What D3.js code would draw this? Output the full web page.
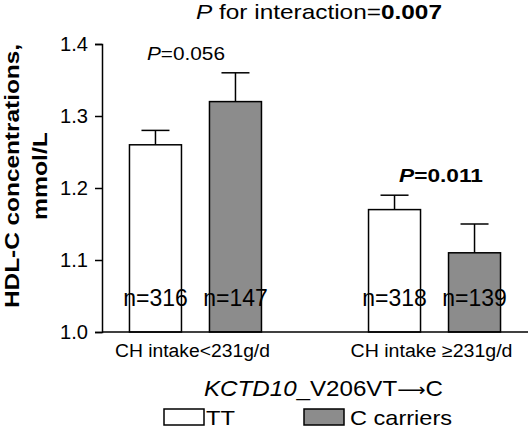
<!DOCTYPE html>
<html>
<head>
<meta charset="utf-8">
<script src="https://cdn.jsdelivr.net/npm/d3@7"></script>
<style>
  html, body { margin: 0; padding: 0; background: #fff; }
  svg { display: block; font-family: "Liberation Sans", Arial, sans-serif; }
</style>
</head>
<body>
<svg id="chart" width="531" height="431"></svg>
<script>
// ---- data ----
const groups = ["CH intake<231g/d", "CH intake \u2265231g/d"];
const genotypes = ["TT", "C carriers"];
const meansTT = [1.26, 1.17];
const meansC = [1.32, 1.11];
const errUpperTT = [1.28, 1.19];
const errUpperC = [1.36, 1.15];
const nTT = ["n=316", "n=318"];
const nC = ["n=147", "n=139"];
const pLabels = ["0.056", "0.011"];
const pBold = [false, true];
const yTicks = [1.0, 1.1, 1.2, 1.3, 1.4];
const colors = { "TT": "#ffffff", "C carriers": "#8c8c8c" };

const svg = d3.select("#chart");

const y = d3.scaleLinear().domain([1.0, 1.4]).range([332, 44]);
const x0 = d3.scalePoint().domain(groups).range([102, 528]).padding(0.391);
const x1 = d3.scaleBand().domain(genotypes).range([-66, 66]).paddingInner(0.35);

const rows = [];
groups.forEach((g, i) => {
  rows.push({ g, k: "TT", v: meansTT[i], e: errUpperTT[i], n: nTT[i] });
  rows.push({ g, k: "C carriers", v: meansC[i], e: errUpperC[i], n: nC[i] });
});

// error bars (behind bars)
const eb = svg.append("g").attr("stroke", "#000").attr("stroke-width", 1.5);
rows.forEach(d => {
  const cx = x0(d.g) + x1(d.k) + x1.bandwidth() / 2;
  eb.append("line").attr("x1", cx).attr("x2", cx).attr("y1", y(d.v)).attr("y2", y(d.e));
  eb.append("line").attr("x1", cx - 14).attr("x2", cx + 14).attr("y1", y(d.e)).attr("y2", y(d.e));
});

// bars
svg.append("g").selectAll("rect").data(rows).join("rect")
  .attr("x", d => x0(d.g) + x1(d.k))
  .attr("y", d => y(d.v))
  .attr("width", x1.bandwidth())
  .attr("height", d => y(1.0) - y(d.v))
  .attr("fill", d => colors[d.k])
  .attr("stroke", "#000")
  .attr("stroke-width", 1.5);

// n labels
svg.append("g").selectAll("text").data(rows).join("text")
  .attr("x", d => x0(d.g) + x1(d.k) + x1.bandwidth() / 2)
  .attr("y", 306)
  .attr("text-anchor", "middle")
  .attr("font-size", 23)
  .text(d => d.n);

// y axis
const yAxis = d3.axisLeft(y).tickValues(yTicks).tickFormat(d3.format(".1f")).tickSize(7).tickPadding(7);
const ya = svg.append("g").attr("transform", "translate(102,0)").call(yAxis);
ya.select(".domain").attr("stroke-width", 1.5);
ya.selectAll(".tick line").attr("stroke-width", 1.5);
ya.selectAll(".tick text").attr("font-size", 20).attr("font-family", "Liberation Sans, Arial, sans-serif")
  .attr("fill", "#000").attr("textLength", 28).attr("lengthAdjust", "spacingAndGlyphs");

// x axis line
svg.append("line").attr("x1", 102).attr("x2", 528).attr("y1", y(1.0)).attr("y2", y(1.0))
  .attr("stroke", "#000").attr("stroke-width", 1.5);

// category labels
const catLen = [155, 162];
svg.append("g").selectAll("text").data(groups).join("text")
  .attr("x", d => x0(d) - 3)
  .attr("y", 357)
  .attr("text-anchor", "middle")
  .attr("font-size", 18)
  .attr("textLength", (d, i) => catLen[i])
  .attr("lengthAdjust", "spacingAndGlyphs")
  .text(d => d);

// P labels per group
const pX = [147, 399], pY = [60, 182], pLen = [78, 84];
groups.forEach((g, i) => {
  const t = svg.append("text")
    .attr("x", pX[i])
    .attr("y", pY[i])
    .attr("font-size", 19)
    .attr("textLength", pLen[i])
    .attr("lengthAdjust", "spacingAndGlyphs")
    .attr("font-weight", pBold[i] ? "bold" : "normal");
  t.append("tspan").attr("font-style", "italic").text("P");
  t.append("tspan").text("=" + pLabels[i]);
});

// title
const title = svg.append("text").attr("x", 196).attr("y", 19).attr("font-size", 21)
  .attr("textLength", 246).attr("lengthAdjust", "spacingAndGlyphs");
title.append("tspan").attr("font-style", "italic").text("P");
title.append("tspan").text(" for interaction=");
title.append("tspan").attr("font-weight", "bold").text("0.007");

// y label
const yl = svg.append("g").attr("transform", "translate(0,176) rotate(-90)")
  .attr("font-size", 20).attr("font-weight", "bold");
yl.append("text").attr("x", 0).attr("y", 19).attr("text-anchor", "middle")
  .attr("textLength", 264).attr("lengthAdjust", "spacingAndGlyphs").text("HDL-C concentrations,");
yl.append("text").attr("x", 0).attr("y", 47).attr("text-anchor", "middle")
  .attr("textLength", 88).attr("lengthAdjust", "spacingAndGlyphs").text("mmol/L");

// x title
const xt = svg.append("text").attr("x", 204).attr("y", 396).attr("font-size", 22)
  .attr("textLength", 239).attr("lengthAdjust", "spacingAndGlyphs");
xt.append("tspan").attr("font-style", "italic").text("KCTD10");
xt.append("tspan").text("_V206VT");
xt.append("tspan").attr("font-family", "DejaVu Sans").attr("font-size", 18).text("\u27F6");
xt.append("tspan").text("C");

// legend
const leg = svg.append("g");
const legX = [164, 304], legTX = [206, 350], legLen = [29, 102];
genotypes.forEach((k, i) => {
  leg.append("rect").attr("x", legX[i]).attr("y", 409).attr("width", 40).attr("height", 16)
    .attr("fill", colors[k]).attr("stroke", "#000").attr("stroke-width", 1.5);
  leg.append("text").attr("x", legTX[i]).attr("y", 425).attr("font-size", 21)
    .attr("textLength", legLen[i]).attr("lengthAdjust", "spacingAndGlyphs").text(k);
});
</script>
</body>
</html>
